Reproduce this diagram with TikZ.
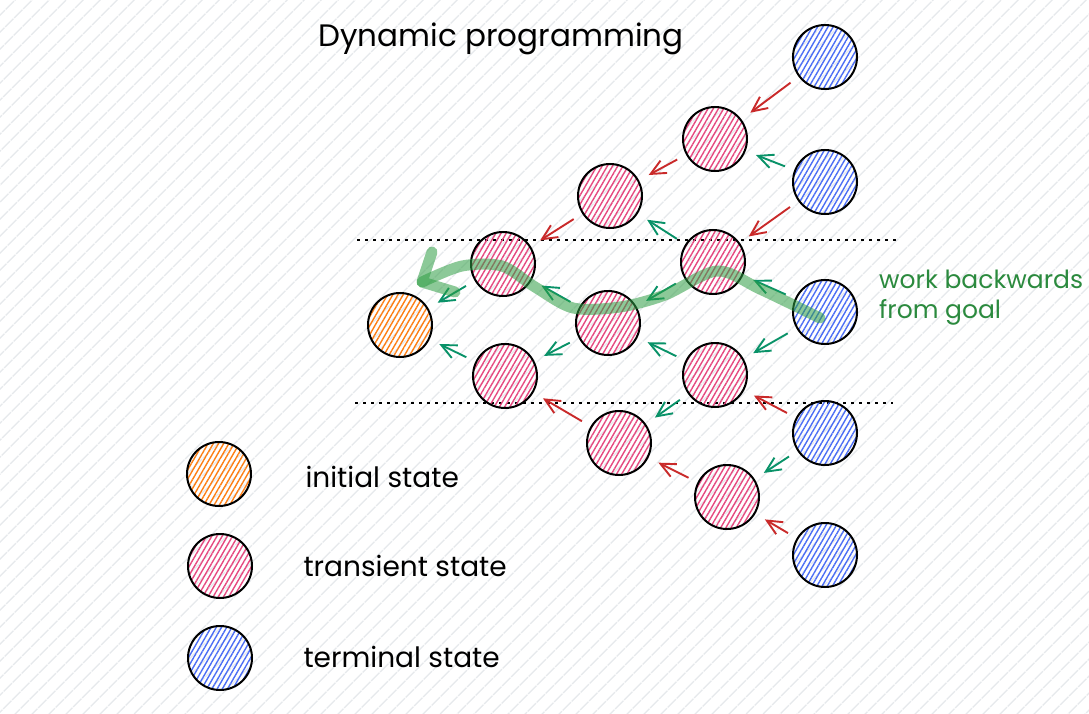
\documentclass[tikz,border=0pt]{standalone}
\usepackage{fontspec}
\setmainfont{Poppins}
\usetikzlibrary{arrows.meta,patterns.meta}

\definecolor{bgHatch}{HTML}{E6E9EC}
\definecolor{initColor}{HTML}{FD7E14}
\definecolor{transColor}{HTML}{E64980}
\definecolor{termColor}{HTML}{4C6EF5}
\definecolor{backRed}{HTML}{C92A2A}
\definecolor{backGreen}{HTML}{099268}
\definecolor{goalGreen}{HTML}{2F9E44}
\definecolor{noteGreen}{HTML}{2B8A3E}

\begin{document}
\begin{tikzpicture}[x=1pt, y=-1pt,
    state/.style={circle, draw=black, line width=2pt, minimum size=64pt, inner sep=0pt},
    hatched/.style={pattern={Lines[angle=60, distance=4.5pt, line width=1.4pt]}, pattern color=#1},
    initState/.style={state, hatched=initColor},
    transState/.style={state, hatched=transColor},
    termState/.style={state, hatched=termColor},
    backLink/.style={draw=#1, line width=1.9pt, -{Straight Barb[length=15pt, width=14pt]}, shorten <=10pt, shorten >=11pt},
    goalPath/.style={draw=goalGreen, line width=11pt, opacity=.55, line cap=round, line join=round},
    bandLine/.style={line width=1.6pt, dash pattern=on 3pt off 5pt},
    titleText/.style={font=\fontsize{31}{36}\selectfont},
    legendText/.style={font=\fontsize{28}{32}\selectfont},
    goalText/.style={text=noteGreen, font=\fontsize{25}{30}\selectfont, inner sep=0pt}
]

% General parameters (1pt = 1px, y grows downwards)
\def\picWidth{1089}       % Width of the picture
\def\picHeight{714}       % Height of the picture
\def\termX{825}           % Column of the terminal states

\useasboundingbox (0,0) rectangle (\picWidth,\picHeight);

% Background hatching
\fill[white] (0,0) rectangle (\picWidth,\picHeight);
\fill[pattern={Lines[angle=45, distance=13pt, line width=1.6pt]}, pattern color=bgHatch] (0,0) rectangle (\picWidth,\picHeight);

% Band of the path (dotted lines)
\coordinate (bandTopL) at (357,240);
\coordinate (bandTopR) at (897,240);
\coordinate (bandBotL) at (355,403);
\coordinate (bandBotR) at (893,403);
\draw[bandLine] (bandTopL) -- (bandTopR);
\draw[bandLine] (bandBotL) -- (bandBotR);

% Title
\node[titleText, anchor=base west] (title) at (315,47) {Dynamic programming};

% Initial state
\node[initState] (init) at (400,325) {};

% Transient states, column by column
\node[transState] (a1) at (503,264) {};
\node[transState] (b1) at (505,376) {};
\node[transState] (a2) at (610,196) {};
\node[transState] (b2) at (608,323) {};
\node[transState] (c2) at (619,443) {};
\node[transState] (a3) at (715,139) {};
\node[transState] (b3) at (713,262) {};
\node[transState] (c3) at (715,375) {};
\node[transState] (d3) at (727,497) {};

% Terminal states
\foreach \name/\y in {t1/57, t2/182, t3/312, t4/433, t5/555} {
    \node[termState] (\name) at (\termX,\y) {};
}

% Links outside the band
\foreach \from/\to in {t1/a3, t2/b3, t4/c3, t5/d3, a3/a2, d3/c2, a2/a1, c2/b1} {
    \draw[backLink=backRed] (\from) -- (\to);
}

% Links inside the band
\foreach \from/\to in {t2/a3, t3/b3, t3/c3, t4/d3, b3/a2, b3/b2, c3/b2, c3/c2, b2/a1, b2/b1, a1/init, b1/init} {
    \draw[backLink=backGreen] (\from) -- (\to);
}

% Path from the goal back to the start
\coordinate (goalStart) at (820,318);
\coordinate (goalEnd) at (422,282);
\coordinate (barbUp) at (432,252);
\coordinate (barbDown) at (455,292);
\draw[goalPath] plot[smooth, tension=0.5] coordinates {(goalStart) (760,289) (717,271) (665,295) (620,307) (573,308) (535,287) (502,266) (462,266) (goalEnd)};
\draw[goalPath] (barbUp) -- (goalEnd) -- (barbDown);
\node[goalText, anchor=base west] (goalNote) at (879,288) {work backwards};
\node[goalText, anchor=base west] (goalNoteTwo) at (879,318) {from goal};

% Legend
\node[initState] (keyInit) at (219,474) {};
\node[transState] (keyTrans) at (220,566) {};
\node[termState] (keyTerm) at (220,658) {};
\node[legendText, anchor=base west] (keyInitText) at (302,487) {initial state};
\node[legendText, anchor=base west] (keyTransText) at (300,576) {transient state};
\node[legendText, anchor=base west] (keyTermText) at (300,667) {terminal state};

\end{tikzpicture}
\end{document}
